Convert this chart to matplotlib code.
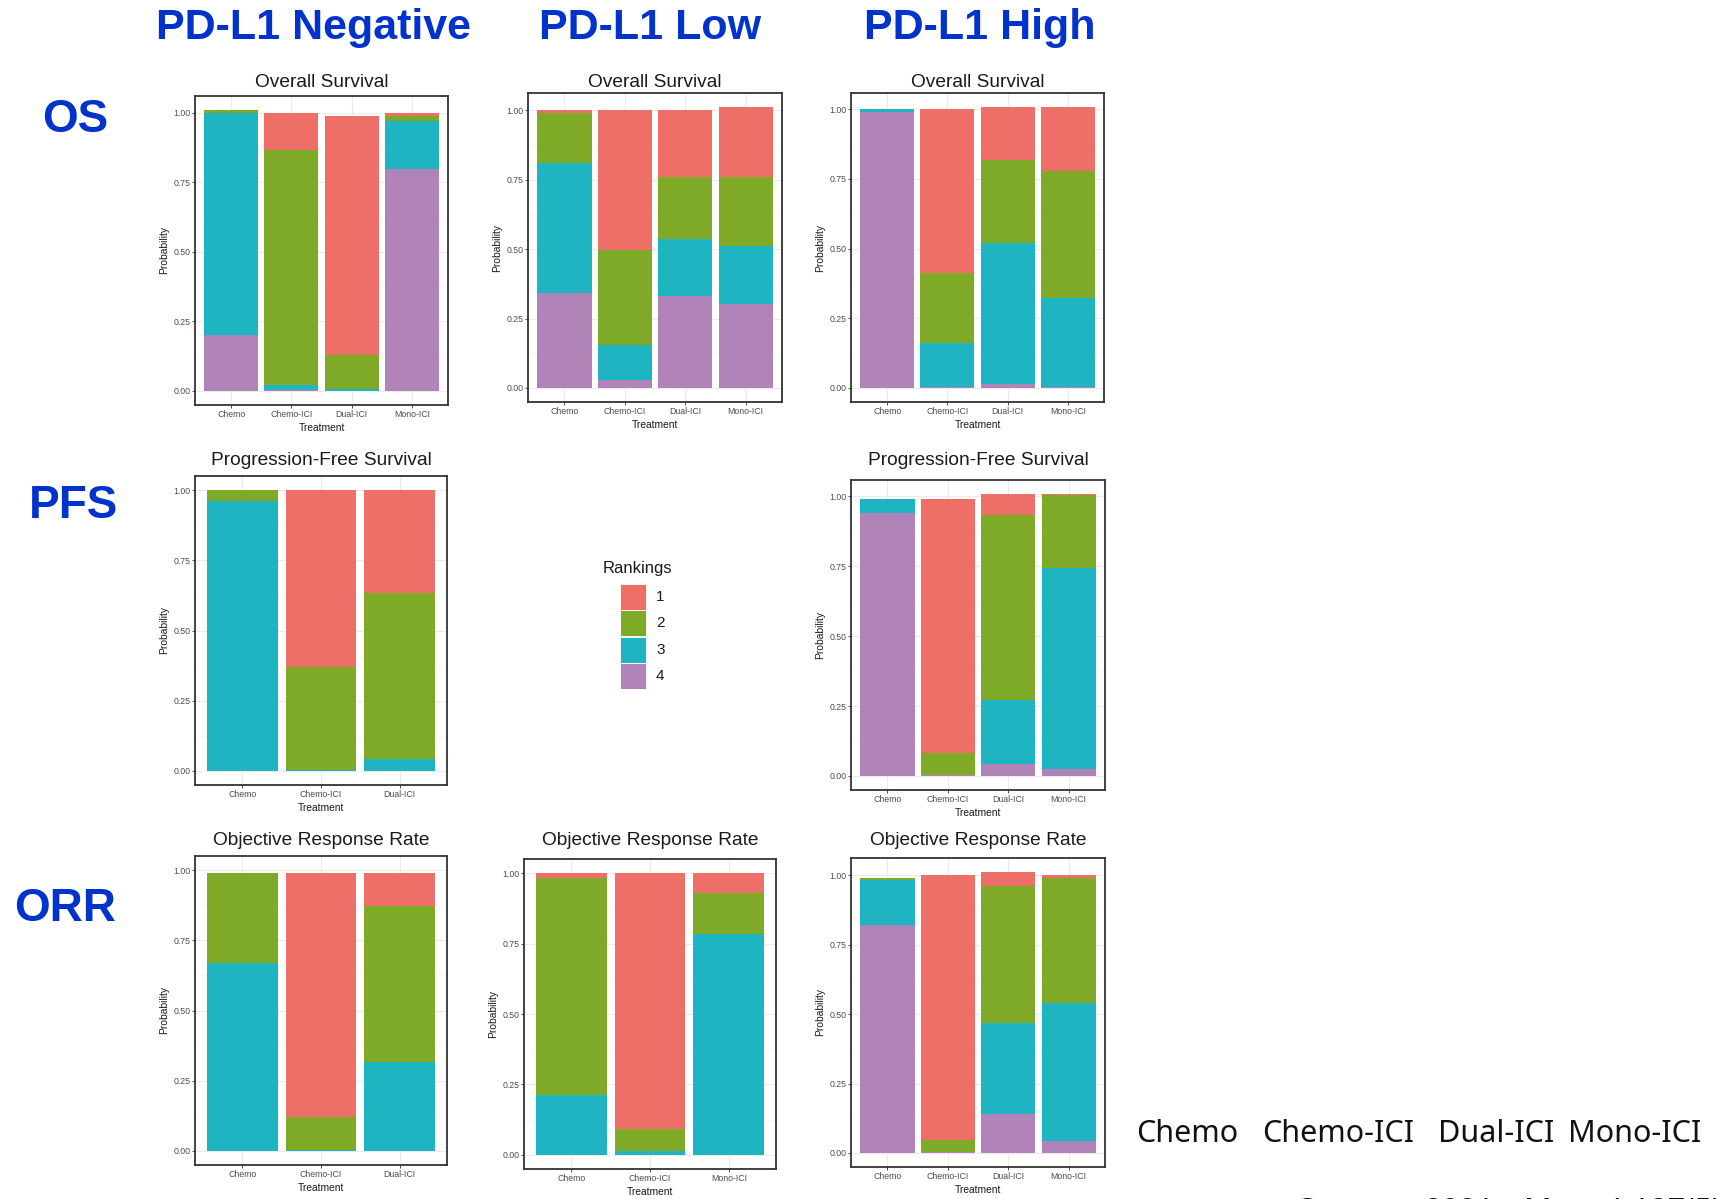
import matplotlib
matplotlib.use("Agg")
import matplotlib.pyplot as plt
from matplotlib.patches import Rectangle
from matplotlib.ticker import MultipleLocator
import numpy as np

# ---------------- data ----------------
RANK_LABELS = ["1", "2", "3", "4"]
RANK_COLORS = ["#EE6F68", "#7FAA28", "#1FB4C1", "#B083B9"]

COLUMN_HEADERS = ["PD-L1 Negative", "PD-L1 Low", "PD-L1 High"]
ROW_HEADERS = ["OS", "PFS", "ORR"]
Y_TICKS = [0.00, 0.25, 0.50, 0.75, 1.00]
Y_TICK_LABELS = ["0.00", "0.25", "0.50", "0.75", "1.00"]

TREAT_4 = ["Chemo", "Chemo-ICI", "Dual-ICI", "Mono-ICI"]
TREAT_NEG3 = ["Chemo", "Chemo-ICI", "Dual-ICI"]
TREAT_LOW3 = ["Chemo", "Chemo-ICI", "Mono-ICI"]

CITATION_PARTS = ["Cancer.", "2021", "Mar", "1;127(5):709-719"]

# Overall Survival, PD-L1 negative
OS_NEG_R1 = [0.00, 0.133, 0.860, 0.010]
OS_NEG_R2 = [0.010, 0.847, 0.121, 0.020]
OS_NEG_R3 = [0.800, 0.018, 0.006, 0.172]
OS_NEG_R4 = [0.200, 0.002, 0.001, 0.798]
# Overall Survival, PD-L1 low
OS_LOW_R1 = [0.010, 0.502, 0.241, 0.253]
OS_LOW_R2 = [0.180, 0.345, 0.221, 0.249]
OS_LOW_R3 = [0.467, 0.123, 0.207, 0.208]
OS_LOW_R4 = [0.343, 0.030, 0.331, 0.302]
# Overall Survival, PD-L1 high
OS_HIGH_R1 = [0.000, 0.591, 0.190, 0.230]
OS_HIGH_R2 = [0.000, 0.248, 0.299, 0.455]
OS_HIGH_R3 = [0.011, 0.161, 0.505, 0.321]
OS_HIGH_R4 = [0.990, 0.002, 0.014, 0.002]
# Progression-Free Survival, PD-L1 negative
PFS_NEG_R1 = [0.000, 0.629, 0.368]
PFS_NEG_R2 = [0.039, 0.369, 0.589]
PFS_NEG_R3 = [0.961, 0.002, 0.043]
PFS_NEG_R4 = [0.000, 0.000, 0.000]
# Progression-Free Survival, PD-L1 high
PFS_HIGH_R1 = [0.000, 0.907, 0.074, 0.003]
PFS_HIGH_R2 = [0.000, 0.080, 0.662, 0.260]
PFS_HIGH_R3 = [0.050, 0.000, 0.230, 0.719]
PFS_HIGH_R4 = [0.940, 0.003, 0.042, 0.026]
# Objective Response Rate, PD-L1 negative
ORR_NEG_R1 = [0.000, 0.869, 0.120]
ORR_NEG_R2 = [0.322, 0.120, 0.553]
ORR_NEG_R3 = [0.669, 0.002, 0.318]
ORR_NEG_R4 = [0.000, 0.000, 0.000]
# Objective Response Rate, PD-L1 low
ORR_LOW_R1 = [0.018, 0.907, 0.069]
ORR_LOW_R2 = [0.768, 0.080, 0.148]
ORR_LOW_R3 = [0.214, 0.013, 0.783]
ORR_LOW_R4 = [0.000, 0.000, 0.000]
# Objective Response Rate, PD-L1 high
ORR_HIGH_R1 = [0.000, 0.952, 0.052, 0.011]
ORR_HIGH_R2 = [0.006, 0.045, 0.492, 0.450]
ORR_HIGH_R3 = [0.162, 0.000, 0.328, 0.497]
ORR_HIGH_R4 = [0.821, 0.003, 0.140, 0.042]

# ---------------- figure ----------------
W, H = 1716, 1199
fig = plt.figure(figsize=(W / 100, H / 100), dpi=100)
fig.patch.set_facecolor("white")

SANS = ["Liberation Sans", "DejaVu Sans"]
NOTO = ["Noto Sans", "DejaVu Sans"]


def add_axes_px(l, t, r, b):
    return fig.add_axes([l / W, 1 - b / H, (r - l) / W, (b - t) / H])


def panel(box, title, title_base, treat, r1, r2, r3, r4):
    ax = add_axes_px(*box)
    x = np.arange(len(treat))
    layers = [np.array(r4), np.array(r3), np.array(r2), np.array(r1)]
    cols = [RANK_COLORS[3], RANK_COLORS[2], RANK_COLORS[1], RANK_COLORS[0]]
    bottom = np.zeros(len(treat))
    for vals, c in zip(layers, cols):
        ax.bar(x, vals, width=0.9, bottom=bottom, color=c, edgecolor="none",
               zorder=3)
        bottom = bottom + vals
    top = max(bottom.max(), 1.0)
    rng = top
    ax.set_ylim(-0.05 * rng, top + 0.05 * rng)
    ax.set_xlim(-0.6, len(treat) - 0.4)
    ax.set_yticks(Y_TICKS)
    ax.set_yticklabels(Y_TICK_LABELS)
    ax.yaxis.set_minor_locator(MultipleLocator(0.125))
    ax.set_xticks(x)
    ax.set_xticklabels(treat)
    ax.grid(which="major", color="#EBEBEB", linewidth=0.8, zorder=0)
    ax.grid(which="minor", axis="y", color="#F4F4F4", linewidth=0.5, zorder=0)
    ax.set_axisbelow(True)
    ax.tick_params(which="major", length=2.2, width=0.6, color="#333333",
                   labelsize=6.3, labelcolor="#4D4D4D", pad=1.2)
    ax.tick_params(which="minor", length=0)
    for lab in ax.get_xticklabels() + ax.get_yticklabels():
        lab.set_family(SANS)
    for s in ax.spines.values():
        s.set_color("#333333")
        s.set_linewidth(1.3)
    xc = (box[0] + box[2]) / 2
    fig.text(xc / W, 1 - title_base / H, title, fontsize=13.8, family=SANS,
             color="#1A1A1A", ha="center", va="baseline")
    ax.set_ylabel("Probability", fontsize=7.4, family=SANS, color="#1A1A1A",
                  labelpad=3)
    ax.set_xlabel("Treatment", fontsize=7.4, family=SANS, color="#1A1A1A",
                  labelpad=3)
    return ax


OS_BASE, PFS_BASE, ORR_BASE = 87, 465, 845

panel((195, 96, 448, 405), "Overall Survival", OS_BASE, TREAT_4,
      OS_NEG_R1, OS_NEG_R2, OS_NEG_R3, OS_NEG_R4)
panel((528, 93, 782, 402), "Overall Survival", OS_BASE, TREAT_4,
      OS_LOW_R1, OS_LOW_R2, OS_LOW_R3, OS_LOW_R4)
panel((851, 93, 1104, 402), "Overall Survival", OS_BASE, TREAT_4,
      OS_HIGH_R1, OS_HIGH_R2, OS_HIGH_R3, OS_HIGH_R4)
panel((195, 476, 447, 785), "Progression-Free Survival", PFS_BASE, TREAT_NEG3,
      PFS_NEG_R1, PFS_NEG_R2, PFS_NEG_R3, PFS_NEG_R4)
panel((851, 480, 1105, 790), "Progression-Free Survival", PFS_BASE, TREAT_4,
      PFS_HIGH_R1, PFS_HIGH_R2, PFS_HIGH_R3, PFS_HIGH_R4)
panel((195, 856, 447, 1165), "Objective Response Rate", ORR_BASE, TREAT_NEG3,
      ORR_NEG_R1, ORR_NEG_R2, ORR_NEG_R3, ORR_NEG_R4)
panel((524, 859, 776, 1169), "Objective Response Rate", ORR_BASE, TREAT_LOW3,
      ORR_LOW_R1, ORR_LOW_R2, ORR_LOW_R3, ORR_LOW_R4)
panel((851, 858, 1105, 1167), "Objective Response Rate", ORR_BASE, TREAT_4,
      ORR_HIGH_R1, ORR_HIGH_R2, ORR_HIGH_R3, ORR_HIGH_R4)

# ---------------- legend (Rankings) ----------------
lg = add_axes_px(595, 550, 700, 700)
lg.set_xlim(595, 700)
lg.set_ylim(700, 550)
lg.axis("off")
lg.text(603, 568, "Rankings", fontsize=12, family=SANS, color="#1A1A1A",
        ha="left", va="center")
key_tops = [584, 610, 637, 663]
for lab, c, kt in zip(RANK_LABELS, RANK_COLORS, key_tops):
    lg.add_patch(Rectangle((620, kt), 26, 25.5, facecolor=c, edgecolor="white",
                           linewidth=0.6))
    lg.text(656, kt + 13, lab, fontsize=11, family=SANS, color="#1A1A1A",
            ha="left", va="center")

# ---------------- headers ----------------
BLUE = "#0033CC"
for txt, xc in zip(COLUMN_HEADERS, [314, 650, 980]):
    fig.text(xc / W, 1 - 39 / H, txt, fontsize=31, fontweight="bold",
             family=SANS, color=BLUE, ha="center", va="baseline")
for txt, (xc, yc) in zip(ROW_HEADERS, [(75, 120), (73, 506), (65, 909)]):
    fig.text(xc / W, 1 - yc / H, txt, fontsize=33, fontweight="bold",
             family=SANS, color=BLUE, ha="center", va="center")

# ---------------- bottom annotation ----------------
for txt, xl in zip(TREAT_4, [1136, 1262, 1438, 1568]):
    fig.text(xl / W, 1 - 1134 / H, txt, fontsize=22, family=NOTO,
             color="#111111", ha="left", va="center")
for txt, xl in zip(CITATION_PARTS, [1294, 1424, 1524, 1607]):
    fig.text(xl / W, 1 - 1220 / H, txt, fontsize=22, family=NOTO,
             color="#111111", ha="left", va="baseline")

fig.savefig("out.png", dpi=100, facecolor="white")
